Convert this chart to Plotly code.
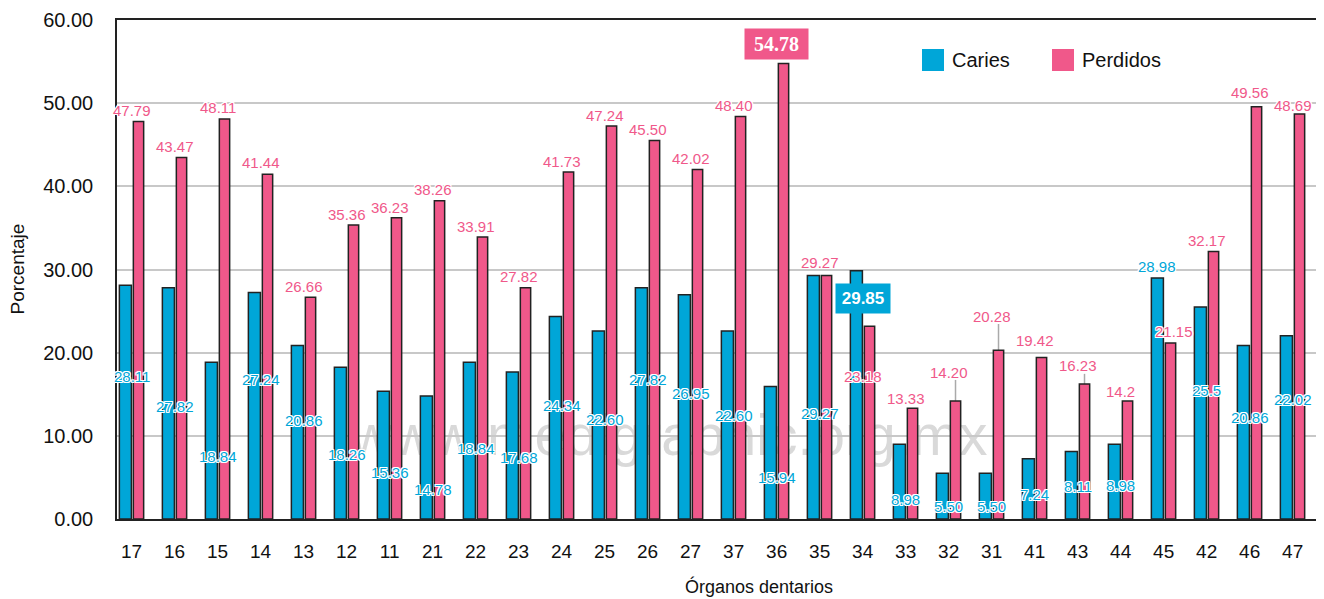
import plotly.graph_objects as go

# ---------------- data ----------------
teeth = ["17", "16", "15", "14", "13", "12", "11", "21", "22", "23", "24", "25", "26", "27",
         "37", "36", "35", "34", "33", "32", "31", "41", "43", "44", "45", "42", "46", "47"]
caries = [28.11, 27.82, 18.84, 27.24, 20.86, 18.26, 15.36, 14.78, 18.84, 17.68, 24.34, 22.60, 27.82, 26.95,
          22.60, 15.94, 29.27, 29.85, 8.98, 5.50, 5.50, 7.24, 8.11, 8.98, 28.98, 25.5, 20.86, 22.02]
perdidos = [47.79, 43.47, 48.11, 41.44, 26.66, 35.36, 36.23, 38.26, 33.91, 27.82, 41.73, 47.24, 45.50, 42.02,
            48.40, 54.78, 29.27, 23.18, 13.33, 14.20, 20.28, 19.42, 16.23, 14.2, 21.15, 32.17, 49.56, 48.69]
caries_text = ["28.11", "27.82", "18.84", "27.24", "20.86", "18.26", "15.36", "14.78", "18.84", "17.68",
               "24.34", "22.60", "27.82", "26.95", "22.60", "15.94", "29.27", "29.85", "8.98", "5.50",
               "5.50", "7.24", "8.11", "8.98", "28.98", "25.5", "20.86", "22.02"]
perdidos_text = ["47.79", "43.47", "48.11", "41.44", "26.66", "35.36", "36.23", "38.26", "33.91", "27.82",
                 "41.73", "47.24", "45.50", "42.02", "48.40", "54.78", "29.27", "23.18", "13.33", "14.20",
                 "20.28", "19.42", "16.23", "14.2", "21.15", "32.17", "49.56", "48.69"]
y_ticks = [0, 10, 20, 30, 40, 50, 60]

# ---------------- label placement (axis units) ----------------
caries_label_y = [17.1, 13.5, 7.5, 16.8, 11.8, 7.7, 5.6, 3.6, 8.5, 7.45, 13.7, 12.0, 16.8, 15.15,
                  12.5, 5.05, 12.7, 26.5, 2.4, 1.45, 1.45, 3.0, 3.9, 4.0, 30.35, 15.4, 12.25, 14.4]
perdidos_label_y = [49.06, 44.76, 49.42, 42.84, 27.93, 36.66, 37.5, 39.56, 35.2, 29.1, 43.0, 48.5, 46.8, 43.3,
                    49.66, 57.1, 30.8, 17.1, 14.45, 17.67, 24.4, 21.5, 18.4, 15.3, 22.5, 33.5, 51.34, 49.78]
caries_label_dx = [0] * 24 + [-0.15, 0, 0, 0]
perdidos_label_dx = [0] * 24 + [0.25, 0, 0, 0]
leader_idx = [19, 20, 22]
box_pink_idx = 15
box_blue_idx = 17

BLUE = "#00A6D8"
PINK = "#F0588A"
FONT = "Liberation Sans, Arial, sans-serif"
OUTLINE = ("-1px -1px 0 #fff, 1px -1px 0 #fff, -1px 1px 0 #fff, 1px 1px 0 #fff, "
           "0 1px 0 #fff, 0 -1px 0 #fff, 1px 0 0 #fff, -1px 0 0 #fff")

# page body has an 8px default margin -> compensate
PAGE = 8
W, H = 1324 - PAGE, 599 - PAGE
ML, MT, MR, MB = 117 - PAGE, 20 - PAGE, 6, 80
PW, PH = W - ML - MR, H - MT - MB   # 1201 x 499

x = list(range(len(teeth)))

fig = go.Figure()
fig.add_trace(go.Bar(x=x, y=caries, name="Caries", marker=dict(color=BLUE, line=dict(color="#222", width=1.5)),
                     offset=-0.285, width=0.28, hoverinfo="x+y"))
fig.add_trace(go.Bar(x=x, y=perdidos, name="Perdidos", marker=dict(color=PINK, line=dict(color="#222", width=1.5)),
                     offset=0.04, width=0.24, hoverinfo="x+y"))

annotations = []
shapes = []

for i in x:
    if i == box_blue_idx:
        annotations.append(dict(x=i + caries_label_dx[i], y=caries_label_y[i], text="<b>" + caries_text[i] + "</b>",
                                showarrow=False, bgcolor=BLUE, width=50, height=25, borderpad=2,
                                font=dict(family=FONT, size=17, color="white")))
    else:
        annotations.append(dict(x=i + caries_label_dx[i], y=caries_label_y[i], text=caries_text[i], showarrow=False,
                                font=dict(family=FONT, size=15, color=BLUE, shadow=OUTLINE)))
    if i == box_pink_idx:
        annotations.append(dict(x=i + perdidos_label_dx[i], y=perdidos_label_y[i], text="<b>" + perdidos_text[i] + "</b>",
                                showarrow=False, bgcolor=PINK, width=59, height=26, borderpad=2,
                                font=dict(family="Liberation Serif, Times New Roman, serif", size=20, color="white")))
    else:
        annotations.append(dict(x=i + perdidos_label_dx[i], y=perdidos_label_y[i], text=perdidos_text[i], showarrow=False,
                                font=dict(family=FONT, size=15, color=PINK, shadow=OUTLINE)))

for i in leader_idx:
    shapes.append(dict(type="line", xref="x", yref="y", x0=i + 0.16, x1=i + 0.16,
                       y0=perdidos_label_y[i] - 0.95, y1=perdidos[i],
                       line=dict(color="#aaaaaa", width=1.5), layer="below"))

# watermark
shapes.append(dict(type="rect", xref="x", yref="y", x0=5, x1=20, y0=7, y1=14.4, layer="below",
                   line=dict(width=0), fillcolor="rgba(0,0,0,0)",
                   label=dict(text="www.medigraphic.org.mx", textposition="middle center",
                              font=dict(family="Liberation Sans Narrow, Liberation Sans, Arial", size=57,
                                        color="#d9d9d9"))))

# manual legend (positions given in screen pixels of the plot area)
def px_x(p):
    return (p - 117) / PW


def px_y(p):
    return 1 - (p - 20) / PH


for px, col, name in [(922, BLUE, "Caries"), (1052, PINK, "Perdidos")]:
    shapes.append(dict(type="rect", xref="paper", yref="paper", x0=px_x(px), x1=px_x(px + 22),
                       y0=px_y(71), y1=px_y(49), fillcolor=col, line=dict(width=0)))
    annotations.append(dict(xref="paper", yref="paper", x=px_x(px + 28), y=px_y(60),
                            xanchor="left", yanchor="middle", text=name, showarrow=False,
                            font=dict(family=FONT, size=20, color="#111")))

# axis titles
annotations.append(dict(xref="paper", yref="paper", x=px_x(759), y=px_y(586),
                        text="Órganos dentarios", showarrow=False, xanchor="center", yanchor="middle",
                        font=dict(family=FONT, size=18, color="#111")))
annotations.append(dict(xref="paper", yref="paper", x=px_x(17), y=0.5, textangle=-90,
                        text="Porcentaje", showarrow=False, xanchor="center", yanchor="middle",
                        font=dict(family=FONT, size=19, color="#111")))

fig.update_layout(
    width=W, height=H,
    margin=dict(l=ML, r=MR, t=MT, b=MB, autoexpand=False),
    paper_bgcolor="white", plot_bgcolor="white",
    barmode="overlay",
    showlegend=False,
    annotations=annotations,
    shapes=shapes,
    font=dict(family=FONT, color="#111"),
)
fig.update_xaxes(range=[-0.34, 27.59], tickmode="array", tickvals=x, ticktext=teeth, automargin=False,
                 tickfont=dict(family=FONT, size=19, color="#111"), ticklabelstandoff=14,
                 showline=True, linecolor="#222", linewidth=1.5, mirror=True, showgrid=False, ticks="")
fig.update_yaxes(range=[0, 60], tickmode="array", tickvals=y_ticks, tickformat=".2f", automargin=False,
                 tickfont=dict(family=FONT, size=20, color="#111"), ticklabelstandoff=18,
                 showline=True, linecolor="#222", linewidth=1.5, mirror=True,
                 showgrid=True, gridcolor="#c8c8c8", gridwidth=1.5, zeroline=False, ticks="")

fig.write_html("out.html")
